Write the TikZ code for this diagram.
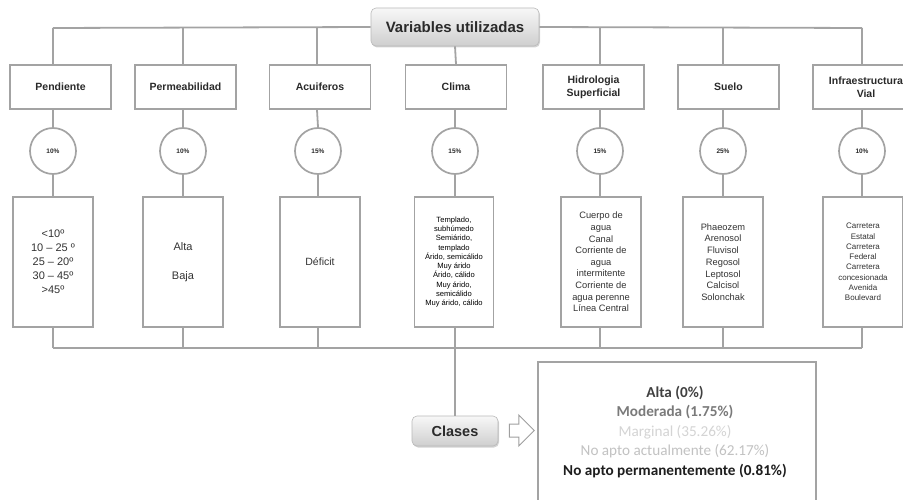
\documentclass[tikz,border=0pt]{standalone}
\usepackage{fontspec}
\setmainfont{Liberation Sans}
\newfontfamily\calib{Carlito}
\usetikzlibrary{shadows,shapes.arrows}
\definecolor{linegray}{HTML}{A3A3A3}
\definecolor{txtdark}{HTML}{2A2A2A}
\begin{document}
\begin{tikzpicture}[x=1pt,y=-1pt,
  conn/.style={draw=linegray, line width=1.8pt},
  headbox/.style={draw=linegray, line width=1.7pt, fill=white, minimum width=101pt, minimum height=44pt, inner sep=1pt, align=center, font=\fontsize{10.5}{13}\selectfont\bfseries, text=txtdark},
  pctcircle/.style={circle, draw=linegray, line width=1.7pt, fill=white, minimum size=46pt, inner sep=0pt, font=\fontsize{6.5}{7}\selectfont\bfseries, text=txtdark},
  contbox/.style={draw=linegray, line width=1.7pt, fill=white, minimum width=80pt, minimum height=130pt, inner sep=1pt, align=center, text=black!80},
  pill/.style={rounded corners=5pt, draw=gray!55, line width=0.6pt, top color=gray!6, bottom color=gray!38, drop shadow={shadow xshift=1pt, shadow yshift=-1.5pt, opacity=0.35}, font=\bfseries, text=txtdark, inner sep=0pt}
]
\useasboundingbox (0,0) rectangle (903,500);
\clip (0,0) rectangle (903,500);

% title
\node[pill, minimum width=168pt, minimum height=38pt, font=\fontsize{15}{18}\selectfont\bfseries] (var) at (455,27) {Variables utilizadas};

% bus coordinates
\coordinate (k1) at (53,28);
\coordinate (k2) at (183,28);
\coordinate (k3) at (317,28);
\coordinate (k4) at (455,28);
\coordinate (k5) at (600,28);
\coordinate (k6) at (723,28);
\coordinate (k7) at (862,28);
\coordinate (bb) at (455,348);

% header boxes
\node[headbox] (h1) at (60.5,87) {Pendiente};
\node[headbox] (h2) at (185.5,87) {Permeabilidad};
\node[headbox] (h3) at (320,87) {Acuiferos};
\node[headbox] (h4) at (456,87) {Clima};
\node[headbox] (h5) at (593.5,87) {Hidrologia\\Superficial};
\node[headbox] (h6) at (728.5,87) {Suelo};
\node[headbox, minimum width=106pt] (h7) at (866,87) {Infraestructura\\Vial};

% percentage circles
\node[pctcircle] (p1) at (53,151) {10\%};
\node[pctcircle] (p2) at (183,151) {10\%};
\node[pctcircle] (p3) at (318,151) {15\%};
\node[pctcircle] (p4) at (455,151) {15\%};
\node[pctcircle] (p5) at (600,151) {15\%};
\node[pctcircle] (p6) at (723,151) {25\%};
\node[pctcircle] (p7) at (862,151) {10\%};

% content boxes
\node[contbox, font=\fontsize{11}{14}\selectfont] (c1) at (53,262) {<10º\\10 – 25 º\\25 – 20º\\30 – 45º\\>45º};
\node[contbox, font=\fontsize{11}{14.5}\selectfont] (c2) at (183,262) {Alta\\[14.5pt]Baja};
\node[contbox, font=\fontsize{10.5}{13}\selectfont] (c3) at (320,262) {Déficit};
\node[contbox, minimum width=79pt, font=\fontsize{7.6}{9.3}\selectfont, text=black] (c4) at (454,262) {Templado,\\subhúmedo\\Semiárido,\\templado\\Árido, semicálido\\Muy árido\\Árido, cálido\\Muy árido,\\semicálido\\Muy árido, cálido};
\node[contbox, font=\fontsize{9.3}{11.6}\selectfont] (c5) at (601,262) {Cuerpo de\\agua\\Canal\\Corriente de\\agua\\intermitente\\Corriente de\\agua perenne\\Línea Central};
\node[contbox, font=\fontsize{9.3}{11.7}\selectfont] (c6) at (723,262) {Phaeozem\\Arenosol\\Fluvisol\\Regosol\\Leptosol\\Calcisol\\Solonchak};
\node[contbox, font=\fontsize{8}{10.3}\selectfont] (c7) at (863,262) {Carretera\\Estatal\\Carretera\\Federal\\Carretera\\concesionada\\Avenida\\Boulevard};

% clases
\node[pill, minimum width=86pt, minimum height=30pt, font=\fontsize{14.5}{17}\selectfont\bfseries] (cls) at (455,431) {Clases};
\node[single arrow, draw=gray!75, line width=1pt, fill=white, minimum height=25pt, minimum width=31pt, inner sep=6pt, single arrow head extend=9pt] (arr) at (518.5,430.5) {};
\node[draw=linegray, line width=1.5pt, fill=white, minimum width=278pt, minimum height=150pt, anchor=north west] (res) at (537,361) {};
\node[align=center, font=\calib\fontsize{15.2}{19.5}\selectfont] (restxt) at (675,432) {%
\textcolor[HTML]{404040}{\bfseries Alta (0\%)}\\
\textcolor[HTML]{7A7A7A}{\bfseries Moderada (1.75\%)}\\
\textcolor[HTML]{D4D4D4}{Marginal (35.26\%)}\\
\textcolor[HTML]{C2C2C2}{No apto actualmente (62.17\%)}\\
\textcolor[HTML]{1E1E1E}{\bfseries No apto permanentemente (0.81\%)}};

% connectors: top bus
\draw[conn] (k1) -- (var.west);
\draw[conn] (var.east) -- (k7);
\draw[conn] (var.south) -- (h4.north);
\foreach \i in {1,2,3,5,6,7} {
  \draw[conn] (k\i) -- (k\i |- h\i.north);
}
\foreach \i in {1,...,7} {
  \draw[conn] (k\i |- h\i.south) -- (p\i.north);
  \draw[conn] (p\i.south) -- (p\i.south |- c\i.north);
  \draw[conn] (p\i.south |- c\i.south) -- (p\i.south |- bb);
}
% bottom bus
\draw[conn] (p1.south |- bb) -- (p7.south |- bb);
\draw[conn] (bb) -- (cls.north);
\end{tikzpicture}
\end{document}
